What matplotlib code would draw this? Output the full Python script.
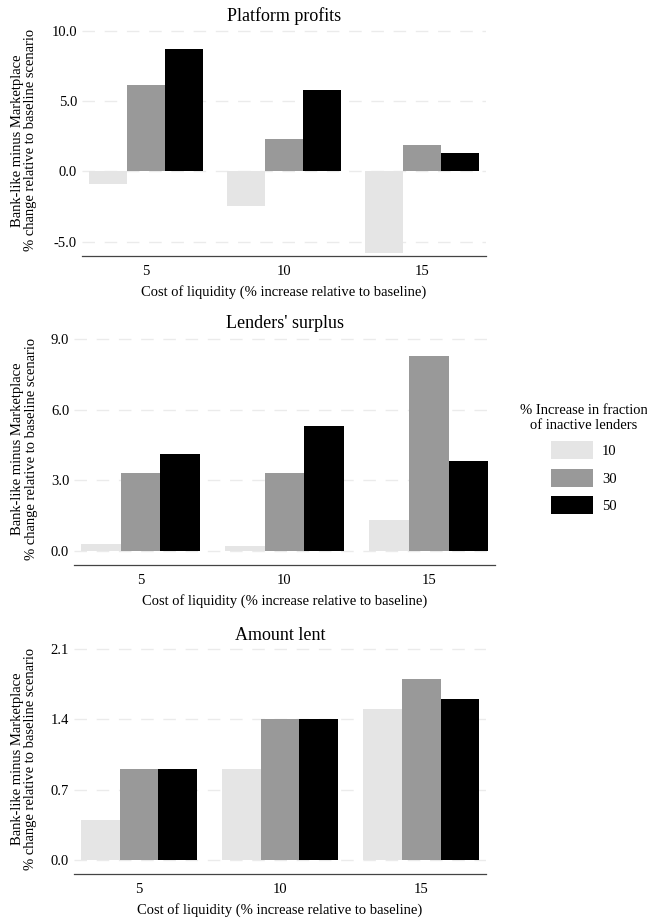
import matplotlib.pyplot as plt
import numpy as np

plt.rcParams['font.family'] = ['Liberation Serif', 'DejaVu Serif']
plt.rcParams['axes.unicode_minus'] = False

# === Données ===
liquidity_cost = ['5', '10', '15']
inactive_share = ['10', '30', '50']
bar_colors = ['#e5e5e5', '#999999', '#000000']

profits_10 = [-0.9, -2.5, -5.8]
profits_30 = [6.1, 2.3, 1.9]
profits_50 = [8.7, 5.8, 1.3]

surplus_10 = [0.3, 0.2, 1.3]
surplus_30 = [3.3, 3.3, 8.3]
surplus_50 = [4.1, 5.3, 3.8]

lent_10 = [0.4, 0.9, 1.5]
lent_30 = [0.9, 1.4, 1.8]
lent_50 = [0.9, 1.4, 1.6]

profits_ticks = [-5, 0, 5, 10]
surplus_ticks = [0, 3, 6, 9]
lent_ticks = [0, 0.7, 1.4, 2.1]

panels = [
    ("Platform profits", [profits_10, profits_30, profits_50], profits_ticks,
     (-6.0, 10.40), [0.1267, 0.7218, 0.6244, 0.2510]),
    ("Lenders' surplus", [surplus_10, surplus_30, surplus_50], surplus_ticks,
     (-0.61, 9.31), [0.1144, 0.3852, 0.6507, 0.2535]),
    ("Amount lent", [lent_10, lent_30, lent_50], lent_ticks,
     (-0.139, 2.147), [0.1144, 0.0490, 0.6368, 0.2502]),
]

fig = plt.figure(figsize=(6.47, 9.19), dpi=100)
x = np.arange(len(liquidity_cost))
width = 0.275
axes = []

for title, series, ticks, ylim, rect in panels:
    ax = fig.add_axes(rect)
    for i, vals in enumerate(series):
        ax.bar(x + (i - 1) * width, vals, width, color=bar_colors[i],
               label=inactive_share[i], zorder=2)
    for t in ticks:
        ax.axhline(t, color='#ebebeb', lw=1.0, linestyle=(0, (9, 7)), zorder=1)
    ax.set_xlim(-0.46, 2.46)
    ax.set_ylim(*ylim)
    ax.set_yticks(ticks)
    ax.set_yticklabels([f"{t:.1f}" for t in ticks])
    ax.set_xticks(x)
    ax.set_xticklabels(liquidity_cost)
    ax.tick_params(length=0, labelsize=10.5, colors='black')
    ax.tick_params(axis='y', pad=3.5)
    ax.tick_params(axis='x', pad=6.5)
    for s in ['top', 'right', 'left']:
        ax.spines[s].set_visible(False)
    ax.spines['bottom'].set_color('#444444')
    ax.spines['bottom'].set_linewidth(0.9)
    ax.set_title(title, fontsize=13, pad=2)
    ax.set_xlabel("Cost of liquidity (% increase relative to baseline)",
                  fontsize=10.5, labelpad=5)
    ax.set_ylabel("Bank-like minus Marketplace\n% change relative to baseline scenario",
                  fontsize=10.5, linespacing=1.0, va='center')
    # centre du libellé à ~24 px du bord gauche de la figure
    ax.yaxis.set_label_coords((24.5 / 647 - rect[0]) / rect[2], 0.5)
    axes.append(ax)

handles, labels = axes[1].get_legend_handles_labels()
leg = fig.legend(handles, labels, loc='center',
                 bbox_to_anchor=(584 / 647, 1 - 459 / 919),
                 frameon=False, title='% Increase in fraction\nof inactive lenders',
                 fontsize=10.5, title_fontsize=10.5, handlelength=2.9,
                 handleheight=1.54, labelspacing=0.65, handletextpad=0.6,
                 borderpad=0, alignment='center')
leg.get_title().set_multialignment('center')

fig.savefig('out.png', dpi=100)
